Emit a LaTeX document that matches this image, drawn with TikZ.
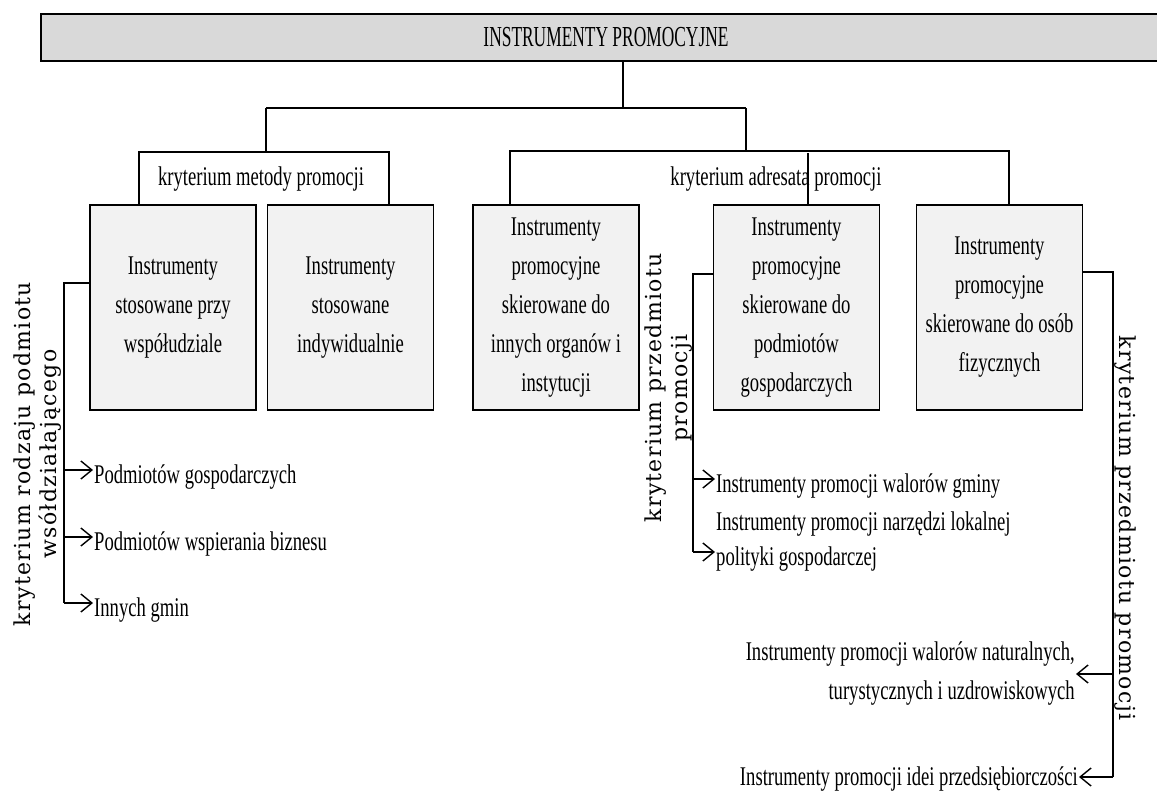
\documentclass[tikz,border=0pt]{standalone}
\usepackage{fontspec}
\setmainfont{Liberation Serif}
\newfontfamily\boxfont[FakeStretch=0.69]{Liberation Serif}
\newfontfamily\titlefont[FakeStretch=0.60]{Liberation Serif}
\newfontfamily\rotfont[LetterSpace=6]{DejaVu Serif}
\usetikzlibrary{arrows.meta}
\definecolor{boxgray}{HTML}{F2F2F2}
\definecolor{titlegray}{HTML}{D9D9D9}
\tikzset{
  titlebox/.style={draw, line width=1.8pt, fill=titlegray, minimum width=1130pt, minimum height=47pt, inner sep=0pt, font=\titlefont\fontsize{29}{34}\selectfont},
  ibox/.style={draw, line width=1.8pt, fill=boxgray, minimum width=166pt, minimum height=205pt, inner sep=0pt, align=center, font=\boxfont\fontsize{27}{39}\selectfont},
  crit/.style={font=\boxfont\fontsize{27}{39}\selectfont, inner sep=0pt},
  item/.style={font=\boxfont\fontsize{27}{39}\selectfont, inner sep=1pt, text height=26pt, text depth=0pt},
  multiitem/.style={font=\boxfont\fontsize{27}{39}\selectfont, inner sep=1pt, align=right},
  rot/.style={font=\rotfont\fontsize{22}{26}\selectfont, align=center, inner sep=0pt},
  conn/.style={line width=1.4pt},
  arr/.style={line width=1.4pt, -{Straight Barb[length=11pt,width=18pt,line width=1.4pt]}},
}
\begin{document}
\begin{tikzpicture}[x=1pt,y=-1pt]
\useasboundingbox (0,0) rectangle (1157,792);
% title
\node[titlebox] (top) at (606,37.5) {INSTRUMENTY PROMOCYJNE};
% boxes
\node[ibox] (b1) at (173,307.5) {Instrumenty\\stosowane przy\\współudziale};
\node[ibox] (b2) at (350.5,307.5) {Instrumenty\\stosowane\\indywidualnie};
\node[ibox] (b3) at (556,307.5) {Instrumenty\\promocyjne\\skierowane do\\innych organów i\\instytucji};
\node[ibox] (b4) at (796.5,307.5) {Instrumenty\\promocyjne\\skierowane do\\podmiotów\\gospodarczych};
\node[ibox] (b5) at (999.5,307.5) {Instrumenty\\promocyjne\\skierowane do osób\\fizycznych};
% hierarchy
\coordinate (jL) at (266,108);
\coordinate (jR) at (746,108);
\coordinate (m1) at (139,152);
\coordinate (m2) at (389,152);
\coordinate (a1) at (510,151);
\coordinate (a2) at (1009,151);
\coordinate (a3) at (808,153);
\draw[conn] ([xshift=17pt]top.south) -- ([xshift=17pt]top.south |- jL);
\draw[conn] (jL) -- (jR);
\draw[conn] (jL) -- (jL |- m1);
\draw[conn] (jR) -- (jR |- a1);
\draw[conn] (m1 |- b1.north) -- (m1) -- (m2) -- (m2 |- b2.north);
\draw[conn] (a1 |- b3.north) -- (a1) -- (a2) -- (a2 |- b5.north);
\node[crit] (kmet) at (261,179) {kryterium metody promocji};
\node[crit] (kadr) at (776,179) {kryterium adresata promocji};
\draw[conn] (a3) -- (a3 |- b4.north);
% left group
\coordinate (l1) at (64,283);
\coordinate (l1b) at (64,603);
\draw[conn] (b1.west |- l1) -- (l1) -- (l1b);
\node[item, anchor=west] (g1) at (93,470) {Podmiotów gospodarczych};
\node[item, anchor=west] (g2) at (93,537) {Podmiotów wspierania biznesu};
\node[item, anchor=west] (g3) at (93,603) {Innych gmin};
\draw[arr] (l1 |- g1.west) -- (g1.west);
\draw[arr] (l1 |- g2.west) -- (g2.west);
\draw[arr] (l1b) -- (g3.west);
\node[rot, rotate=90] (rl1) at (38,454) {kryterium rodzaju podmiotu\\wsółdziałającego};
% middle group
\coordinate (p1) at (693,274);
\coordinate (p1b) at (693,552);
\draw[conn] (b4.west |- p1) -- (p1) -- (p1b);
\node[item, anchor=west] (h1) at (715,479) {Instrumenty promocji walorów gminy};
\node[item, anchor=base west] (h2a) at (715,530) {Instrumenty promocji narzędzi lokalnej};
\node[item, anchor=west] (h2b) at (715,552) {polityki gospodarczej};
\draw[arr] (p1 |- h1.west) -- (h1.west);
\draw[arr] (p1b) -- (h2b.west);
\node[rot, rotate=90] (rl2) at (669,388) {kryterium przedmiotu\\promocji};
% right group
\coordinate (r1) at (1113,272);
\coordinate (r1b) at (1113,777);
\draw[conn] (b5.east |- r1) -- (r1) -- (r1b);
\node[multiitem, anchor=east] (k1) at (1076,674) {Instrumenty promocji walorów naturalnych,\\turystycznych i uzdrowiskowych};
\node[item, text height=16pt, anchor=east] (k2) at (1079,777) {Instrumenty promocji idei przedsiębiorczości};
\draw[arr] (r1 |- k1.east) -- (k1.east);
\draw[arr] (r1b) -- (k2.east);
\node[rot, rotate=-90] (rl3) at (1125,528) {kryterium przedmiotu promocji};
\end{tikzpicture}
\end{document}
